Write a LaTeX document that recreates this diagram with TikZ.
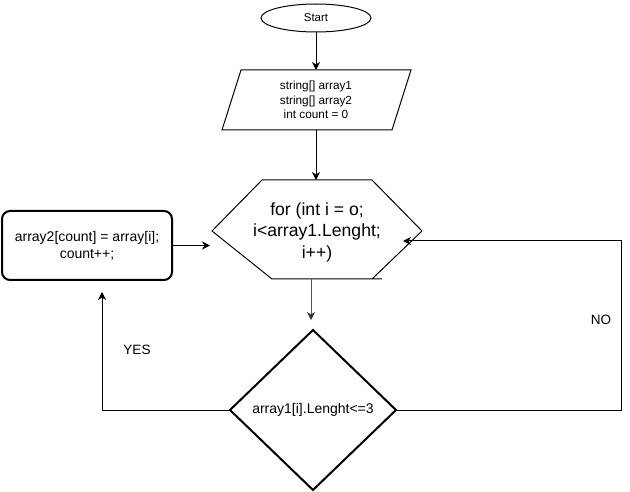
\documentclass[tikz,border=0pt]{standalone}
\usepackage{fontspec}
\setmainfont{Liberation Sans}
\usetikzlibrary{shapes.geometric,arrows.meta,calc}
\definecolor{arrgray}{HTML}{555555}
\tikzset{
  shapeline/.style={draw=black,line width=1pt},
  thickline/.style={draw=black,line width=2pt},
  conn/.style={draw=black,line width=1pt,-{Stealth[length=8pt,width=8pt,inset=2.5pt]}},
  plain/.style={inner sep=0pt,outer sep=0pt,align=center},
  lbl/.style={inner sep=0pt,font=\fontsize{13.5}{16}\selectfont},
}
\begin{document}
\begin{tikzpicture}[x=1pt,y=-1pt]
\useasboundingbox[fill=white] (0,0) rectangle (630,492);
% Start
\node[ellipse,shapeline,plain,minimum width=110pt,minimum height=28pt,font=\fontsize{11.5}{14}\selectfont] (start) at (316,18) {Start};
% input parallelogram
\draw[shapeline] (241,70) -- (411,70) -- (392,130) -- (222,130) -- cycle;
\node[plain,minimum width=170pt,minimum height=60pt,font=\fontsize{11.8}{14.5}\selectfont] (inp) at (316,100) {string[] array1\\string[] array2\\int count = 0};
% hexagon
\draw[shapeline,line join=miter] (372,279) -- (422,231) -- (372,180) -- (262,180) -- (212,231) -- (272,279) -- (382,279);
\node[plain,minimum width=210pt,minimum height=99pt,font=\fontsize{17.6}{21.5}\selectfont] (hex) at (317,232) {for (int i = o;\\i<array1.Lenght;\\i++)};
% action box
\node[thickline,rounded corners=8pt,plain,minimum width=170pt,minimum height=69pt,font=\fontsize{14}{17}\selectfont] (act) at (87,245.5) {array2[count] = array[i];\\count++;};
% decision
\node[diamond,thickline,plain,minimum width=166pt,minimum height=160pt,font=\fontsize{14}{17}\selectfont] (dec) at (313,410) {array1[i].Lenght<=3};
% labels
\node[lbl] (yes) at (137,350) {YES};
\node[lbl] (no) at (601,320) {NO};
% connectors
\coordinate (noCorner) at (621,410);
\coordinate (yesCorner) at (102,410);
\draw[conn] (start.south) -- (inp.north);
\draw[conn] (inp.south) -- (inp.south |- 0,180);
\draw[conn] (act.east) -- (210,245.5);
\draw[conn,draw=arrgray,-{Stealth[length=8pt,width=8pt,inset=2.5pt,color=black!80]}] (311,279) -- ($(dec.north)+(-2,-10)$);
\draw[conn] (dec.west) -- (yesCorner) -- ($(yesCorner |- act.south)+(0,12)$);
\draw[conn] (dec.east) -- (noCorner) -- (noCorner |- 0,241) -- (403,241);
\end{tikzpicture}
\end{document}
